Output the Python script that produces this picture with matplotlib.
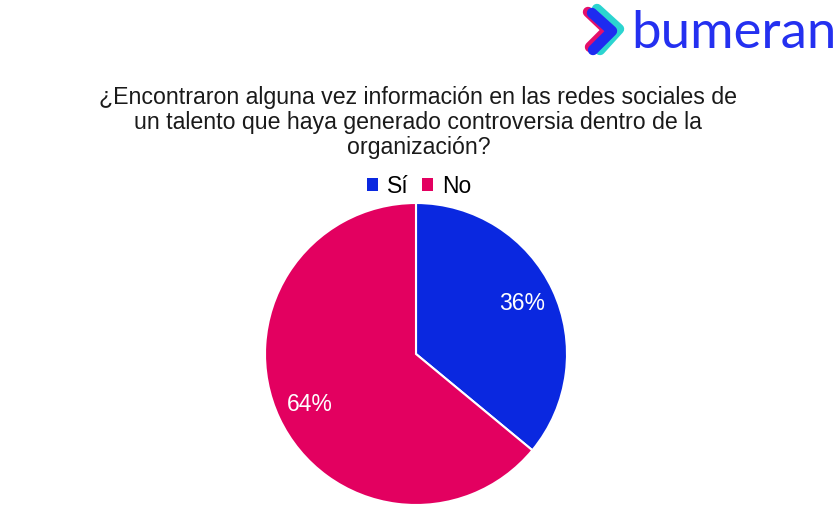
import matplotlib.pyplot as plt
from matplotlib.lines import Line2D
from matplotlib.patches import Patch

# Datos
categorias = ['Sí', 'No']
valores = [36, 64]
colores = ['#0A28E0', '#E30060']

titulo = ('¿Encontraron alguna vez información en las redes sociales de\n'
          'un talento que haya generado controversia dentro de la\n'
          'organización?')

plt.rcParams['font.family'] = ['Liberation Sans', 'DejaVu Sans']

fig = plt.figure(figsize=(8.4, 5.17), dpi=100)
fig.patch.set_facecolor('white')

# Torta
ax = fig.add_axes([265 / 840, 12 / 517, 302 / 840, 302 / 517])
wedges, texts, autotexts = ax.pie(
    valores, colors=colores, startangle=90, counterclock=False,
    autopct='%1.0f%%', pctdistance=0.78,
    wedgeprops=dict(edgecolor='white', linewidth=1.5),
    textprops=dict(color='white', fontsize=16.5))
ax.set_xlim(-1, 1)
ax.set_ylim(-1, 1)
ax.set_aspect('auto')

# Título
fig.text(0.498, 0.763, titulo, ha='center', va='center', fontsize=16.7,
         linespacing=1.1, color='#1a1a1a')

# Leyenda
handles = [Patch(facecolor=c, label=l) for c, l in zip(colores, categorias)]
fig.legend(handles=handles, loc='center', bbox_to_anchor=(0.499, 0.64),
           ncol=2, frameon=False, fontsize=16.5, handlelength=0.45,
           handleheight=0.45, handletextpad=0.4, columnspacing=0.6)

# Logo bumeran
W, H = 840, 517
def trazo(pts, color):
    xs = [x / W for x, y in pts]
    ys = [1 - y / H for x, y in pts]
    fig.lines.append(Line2D(xs, ys, transform=fig.transFigure, color=color,
                            linewidth=7.5, solid_capstyle='round',
                            solid_joinstyle='round'))

trazo([(588, 12), (607, 30), (590, 47)], '#E5106A')
trazo([(597, 9), (619, 29), (600, 50)], '#2BD4D0')
trazo([(592, 13), (612, 31), (593, 50)], '#1E2BF0')
fig.text(631 / W, 1 - 33 / H, 'bumeran', ha='left', va='center',
         fontsize=38, color='#2430F0', family=['Lato', 'DejaVu Sans'])

fig.savefig('out.png', dpi=100, facecolor='white')
